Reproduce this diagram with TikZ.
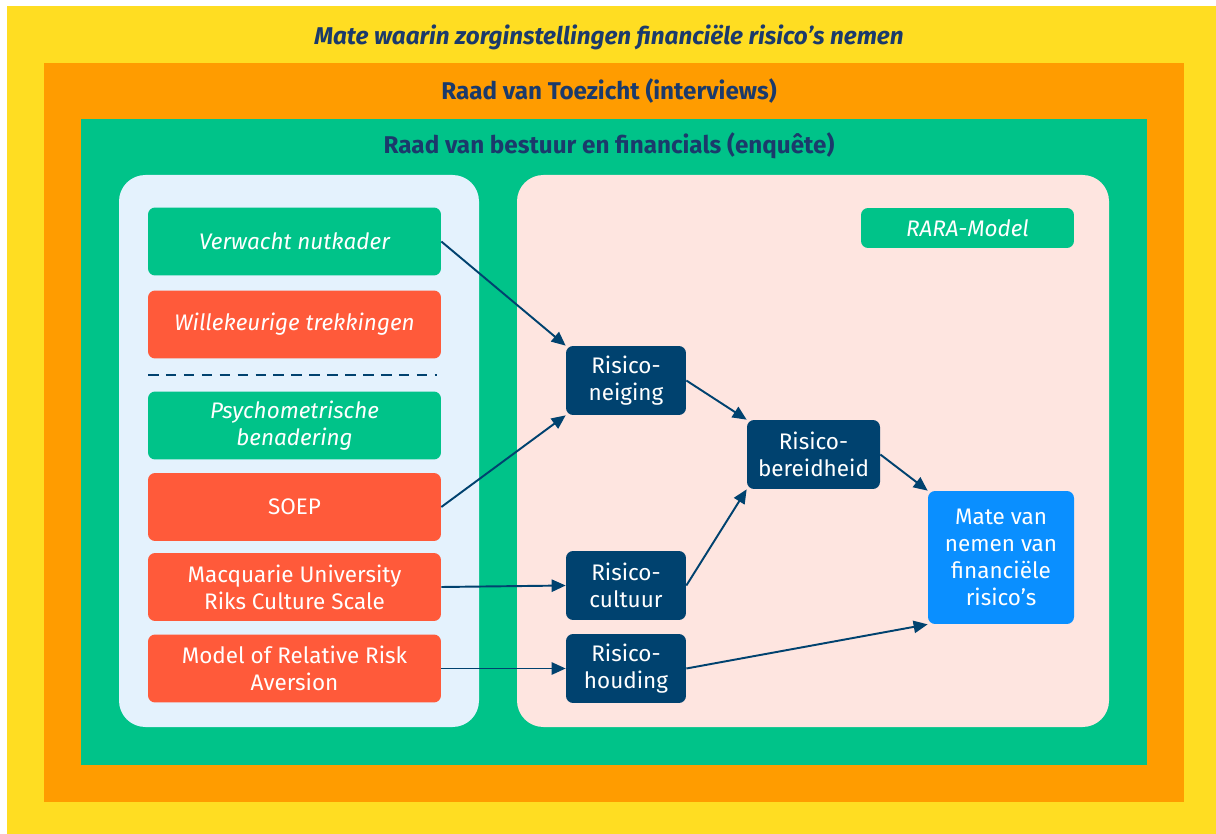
\documentclass[tikz,border=0pt]{standalone}
\usepackage{fontspec}
\setmainfont{Fira Sans}
\usetikzlibrary{arrows.meta}

\definecolor{geel}{HTML}{FFDD22}
\definecolor{oranje}{HTML}{FF9C00}
\definecolor{groen}{HTML}{00C389}
\definecolor{rood}{HTML}{FF5A3A}
\definecolor{navy}{HTML}{00426F}
\definecolor{titelblauw}{HTML}{1B3A6B}
\definecolor{helderblauw}{HTML}{0A8FFF}
\definecolor{lichtblauw}{HTML}{E4F2FD}
\definecolor{roze}{HTML}{FEE5E0}

\begin{document}
\begin{tikzpicture}[x=0.02cm, y=-0.02cm,
  box/.style={rounded corners=4pt, text=white, align=center, inner sep=0pt,
    font=\fontsize{12.8}{15.3}\selectfont},
  methode/.style={box, minimum width=5.86cm, minimum height=1.36cm},
  groenbox/.style={methode, fill=groen, font=\fontsize{12.8}{15.3}\selectfont\itshape},
  roodbox/.style={methode, fill=rood},
  risico/.style={box, fill=navy, minimum width=2.4cm, minimum height=1.38cm},
  titel/.style={text=titelblauw, font=\fontsize{13.8}{16}\selectfont\bfseries},
  pijl/.style={draw=navy, line width=1.1pt, -{Triangle[length=8pt,width=7pt]}}]
\useasboundingbox (0,0) rectangle (1216,834);

% define background layers
\fill[white] (0,0) rectangle (1216,834);
\fill[geel] (7,6) rectangle (1216,834);
\fill[oranje] (44,63) rectangle (1184,802);
\fill[groen] (81,119) rectangle (1147,765);
\fill[lichtblauw, rounded corners=15pt] (119,175) rectangle (479,727);
\fill[roze, rounded corners=15pt] (517,175) rectangle (1109,727);

% titles of the layers
\node[titel, font=\fontsize{13.8}{16}\selectfont\bfseries\itshape] (titelgeel) at (609,37) {Mate waarin zorginstellingen financiële risico’s nemen};
\node[titel] (titeloranje) at (609,91) {Raad van Toezicht (interviews)};
\node[titel] (titelgroen) at (609,146) {Raad van bestuur en financials (enquête)};

% methods on the left
\node[groenbox] (verwacht) at (294.5,241.5) {Verwacht nutkader};
\node[roodbox, font=\fontsize{12.8}{15.3}\selectfont\itshape] (willekeurig) at (294.5,324.5) {Willekeurige trekkingen};
\node[groenbox] (psycho) at (294.5,425.5) {Psychometrische\\benadering};
\node[roodbox] (soep) at (294.5,507) {SOEP};
\node[roodbox] (macquarie) at (294.5,587) {Macquarie University\\Riks Culture Scale};
\node[roodbox] (rrmodel) at (294.5,668.5) {Model of Relative Risk\\Aversion};

% dashed separator
\coordinate (dashA) at (148,375);
\coordinate (dashB) at (437,375);
\draw[navy, line width=1.5pt, dash pattern=on 6pt off 4.2pt] (dashA) -- (dashB);

% RARA model on the right
\node[box, fill=groen, minimum width=4.26cm, minimum height=0.8cm,
  font=\fontsize{12.8}{15.3}\selectfont\itshape] (rara) at (967.5,228) {RARA-Model};
\node[risico] (neiging) at (626,380.5) {Risico-\\neiging};
\node[risico, minimum width=2.66cm] (bereid) at (813.5,454.5) {Risico-\\bereidheid};
\node[risico] (cultuur) at (626,585.5) {Risico-\\cultuur};
\node[risico] (houding) at (626,668.5) {Risico-\\houding};
\node[box, fill=helderblauw, minimum width=2.92cm, minimum height=2.66cm] (mate) at (1001,557.5) {Mate van\\nemen van\\financiële\\risico’s};

% draw the arrows
\draw[pijl] (verwacht.east) -- (neiging.north west);
\draw[pijl] (soep.east) -- (neiging.south west);
\draw[pijl] (macquarie.east) -- (cultuur.west);
\draw[pijl] (rrmodel.east) -- (houding.west);
\draw[pijl] (neiging.east) -- (bereid.north west);
\draw[pijl] (cultuur.east) -- (bereid.south west);
\draw[pijl] (bereid.east) -- (mate.north west);
\draw[pijl] (houding.east) -- (mate.south west);

\end{tikzpicture}
\end{document}
